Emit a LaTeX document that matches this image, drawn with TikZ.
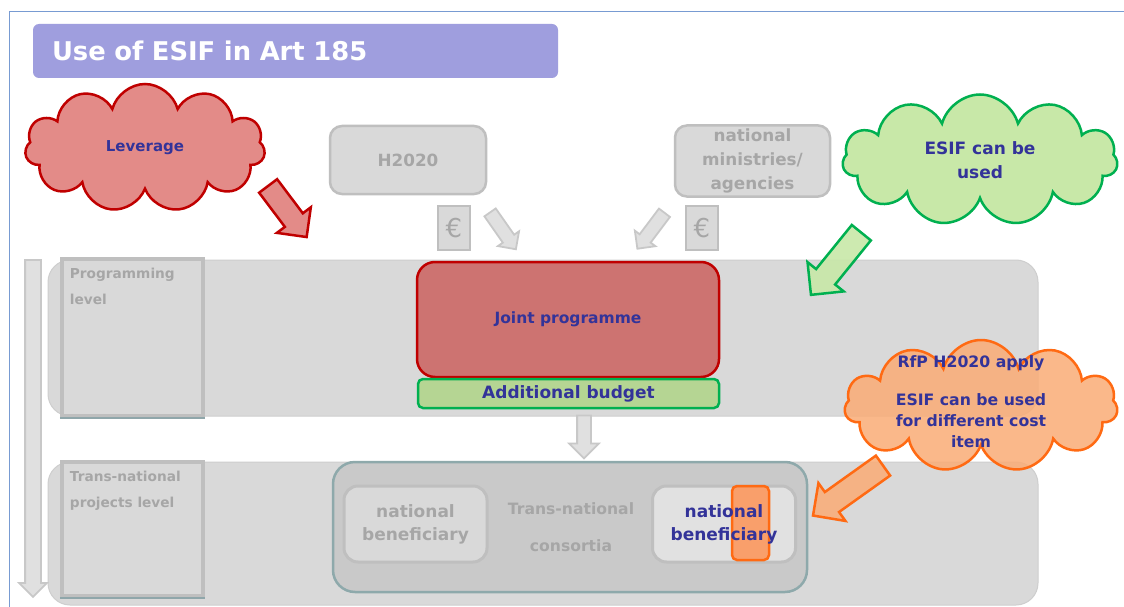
\documentclass[tikz,border=0pt]{standalone}
\usepackage{fontspec}
\setmainfont{DejaVu Sans}
\usetikzlibrary{shapes.symbols,shapes.arrows,positioning}

\definecolor{esifblue}{RGB}{51,51,153}
\definecolor{titlefill}{RGB}{159,158,222}
\definecolor{greytext}{RGB}{166,166,166}
\definecolor{bandfill}{RGB}{217,217,217}
\definecolor{bandline}{RGB}{206,206,206}
\definecolor{boxline}{RGB}{191,191,191}
\definecolor{jointfill}{RGB}{205,115,113}
\definecolor{darkred}{RGB}{192,0,0}
\definecolor{budgetfill}{RGB}{181,213,147}
\definecolor{esifgreen}{RGB}{0,176,80}
\definecolor{leverfill}{RGB}{227,139,136}
\definecolor{greenfill}{RGB}{200,232,168}
\definecolor{orangefill}{RGB}{250,172,118}
\definecolor{orangeline}{RGB}{255,106,19}
\definecolor{consfill}{RGB}{201,201,201}
\definecolor{consline}{RGB}{142,169,171}
\definecolor{framecol}{RGB}{120,155,210}
\definecolor{arrowfill}{RGB}{224,224,224}
\definecolor{arrowline}{RGB}{200,200,200}
\definecolor{shadowline}{RGB}{143,166,170}

\tikzset{
  band/.style={draw=bandline, fill=bandfill, rounded corners=22, line width=1},
  levelbox/.style={draw=boxline, fill=bandfill, line width=4.5},
  leveltext/.style={font=\fontsize{13.7}{26}\bfseries\selectfont, text=greytext, align=left, inner sep=0pt},
  greybox/.style={draw=boxline, fill=bandfill, rounded corners=12, line width=2.5,
    font=\fontsize{16.8}{24}\bfseries\selectfont, text=greytext, align=center},
  eurobox/.style={draw=boxline, fill=bandfill, line width=1.5, minimum width=32, minimum height=44,
    font=\fontsize{26}{26}\selectfont, text=greytext, inner sep=0pt},
  bubble/.style={cloud, cloud puffs=11, cloud ignores aspect, line width=2.5, text=esifblue,
    align=center, inner sep=0pt},
  blockarrow/.style={single arrow, line width=2.5, inner xsep=0pt, single arrow tip angle=90},
  greyarrow/.style={blockarrow, draw=arrowline, fill=arrowfill, line width=1.8},
  benbox/.style={draw=boxline, fill=bandfill, rounded corners=14, line width=3,
    minimum width=143, minimum height=76, font=\fontsize{17}{23}\bfseries\selectfont, align=center}
}

\begin{document}
\begin{tikzpicture}[x=1pt,y=-1pt]
  \useasboundingbox (0,0) rectangle (1124,607);
  \fill[white] (0,0) rectangle (1124,607);
  % Frame
  \draw[framecol, line width=1] (9,607) -- (9,12) -- (1124,12);

  % Title
  \node (title) [fill=titlefill, rounded corners=6, minimum height=54, text width=487, inner xsep=19,
    align=left, text=white, font=\fontsize{25.8}{30}\bfseries\selectfont] at (295.5,51) {Use of ESIF in Art 185};

  % Levels
  \node (progband) [band, minimum width=990, minimum height=156] at (543,338) {};
  \node (projband) [band, minimum width=990, minimum height=143] at (543,533.5) {};
  \node (progbox) [levelbox, minimum width=141, minimum height=157] at (132.5,337.5) {};
  \node (projbox) [levelbox, minimum width=141, minimum height=134] at (132.5,529) {};
  \draw[shadowline, line width=2] (progbox.south west) -- (progbox.south east);
  \draw[shadowline, line width=2] (projbox.south west) -- (projbox.south east);
  \node (proglab) [leveltext, below right=11pt and 10pt of progbox.north west] {Programming\\level};
  \node (projlab) [leveltext, below right=11pt and 10pt of projbox.north west] {Trans-national\\projects level};
  \node (levelarrow) [greyarrow, minimum height=337, inner ysep=7, single arrow head extend=6,
    rotate=-90] at (33,424.5) {};

  % Funding sources
  \node (h2020) [greybox, minimum width=156, minimum height=68] at (408,160) {H2020};
  \node (ministries) [greybox, minimum width=155, minimum height=68] at (752.5,161) {national\\ministries/\\agencies};
  \node (euro-h) [eurobox] at (454,228) {€};
  \node (euro-m) [eurobox] at (702,228) {€};
  \node (arrow-h) [greyarrow, minimum height=45, inner ysep=6, single arrow head extend=6,
    rotate=-55] at (501,228) {};
  \node (arrow-m) [greyarrow, minimum height=45, inner ysep=6, single arrow head extend=6,
    rotate=-127] at (653,228) {};

  % Joint programme
  \node (joint) [draw=darkred, fill=jointfill, rounded corners=18, line width=2.5,
    minimum width=302, minimum height=115, text=esifblue,
    font=\fontsize{15.5}{18}\bfseries\selectfont] at (568,319.5) {Joint programme};
  \node (budget) [draw=esifgreen, fill=budgetfill, rounded corners=5, line width=2.5,
    minimum width=301, minimum height=29, inner sep=0pt, text=esifblue,
    font=\fontsize{17}{20}\bfseries\selectfont] at (568.5,393.5) {Additional budget};
  \node (downarrow) [greyarrow, minimum height=43, inner ysep=6, single arrow head extend=8,
    rotate=-90] at (584,433.5) {};

  % Consortia
  \node (consortia) [draw=consline, fill=consfill, rounded corners=22, line width=2.5,
    minimum width=474, minimum height=130] at (570,527) {};
  \node (natben-l) [benbox, text=greytext] at (415.5,524) {national\\beneficiary};
  \node (natben-r) [benbox, fill=bandfill!80!white] at (724,524) {};
  \node (constext) [font=\fontsize{15.6}{37}\bfseries\selectfont, text=greytext, align=center]
    at (571,527) {Trans-national\\consortia};
  \node (costitem) [draw=orangeline, fill=orangeline!75!white, fill opacity=0.8, rounded corners=5,
    line width=2.5, minimum width=37, minimum height=74] at (750.5,523) {};
  \node (natben-rt) [font=\fontsize{17}{23}\bfseries\selectfont, text=esifblue, align=center]
    at (natben-r.center) {national\\beneficiary};

  % Clouds
  \node (leverage) [bubble, draw=darkred, fill=leverfill, minimum width=240, minimum height=128,
    font=\fontsize{15}{18}\bfseries\selectfont] at (145,148) {Leverage};
  \node (levarrow) [blockarrow, draw=darkred, fill=leverfill, minimum height=64, inner ysep=10,
    single arrow head extend=10, rotate=-53] at (284,207) {};
  \node (esifused) [bubble, draw=esifgreen, fill=greenfill, minimum width=275, minimum height=131,
    font=\fontsize{17}{24}\bfseries\selectfont] at (980,160) {ESIF can be\\used};
  \node (greenarrow) [blockarrow, draw=esifgreen, fill=greenfill, fill opacity=0.9, minimum height=80,
    inner ysep=11, single arrow head extend=11, rotate=-129] at (840,259) {};
  \node (rfp) [bubble, draw=orangeline, fill=orangefill, fill opacity=0.85,
    minimum width=273, minimum height=132] at (981,406) {};
  \node (rfptext) [font=\fontsize{15.7}{21}\bfseries\selectfont, text=esifblue, align=center]
    at (971,402) {RfP H2020 apply\\[17pt]ESIF can be used\\for different cost\\item};
  \node (orangearrow) [blockarrow, draw=orangeline, fill=orangefill, fill opacity=0.85, minimum height=86,
    inner ysep=11, single arrow head extend=11, rotate=-144.5] at (853,487) {};
\end{tikzpicture}
\end{document}
